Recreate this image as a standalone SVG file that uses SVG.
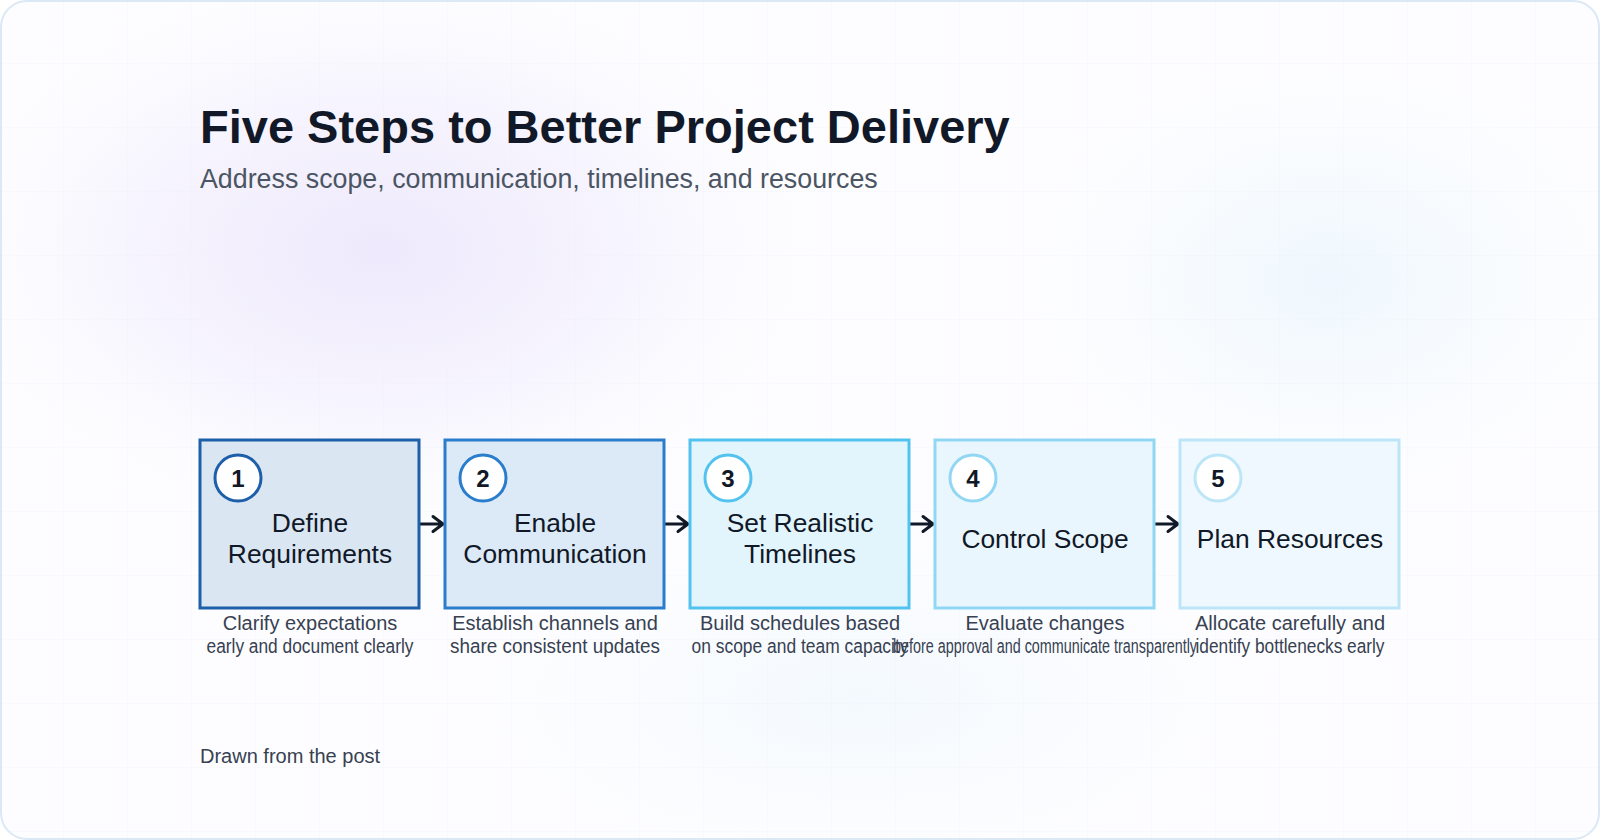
<svg xmlns="http://www.w3.org/2000/svg" width="1600" height="840" viewBox="0 0 1600 840">
  <defs>
    <style>
      .title { font-family: "Liberation Sans", Arial, Helvetica, sans-serif; font-weight: 700; font-size: 47px; fill: #111827; }
      .sub { font-family: "Liberation Sans", Arial, Helvetica, sans-serif; font-size: 26.8px; fill: #4b5563; }
      .foot { font-family: "Liberation Sans", Arial, Helvetica, sans-serif; font-size: 20px; fill: #374151; }
      .label { font-family: "Liberation Sans", Arial, Helvetica, sans-serif; font-size: 26.4px; fill: #111827; text-anchor: middle; }
      .num { font-family: "Liberation Sans", Arial, Helvetica, sans-serif; font-weight: 700; font-size: 24px; fill: #111827; text-anchor: middle; }
      .desc { font-family: "Liberation Sans", Arial, Helvetica, sans-serif; font-size: 20px; fill: #374151; text-anchor: middle; }
      .box { stroke-width: 3; }
      .badge { fill: #ffffff; stroke-width: 3; }
      .conn { fill: none; stroke: #111827; stroke-width: 3; stroke-linecap: round; stroke-linejoin: round; }
    </style>
    <radialGradient id="glowP" cx="0.5" cy="0.5" r="0.5">
      <stop offset="0" stop-color="#ede7fc" stop-opacity="0.95"/>
      <stop offset="0.55" stop-color="#f1edfd" stop-opacity="0.5"/>
      <stop offset="1" stop-color="#ffffff" stop-opacity="0"/>
    </radialGradient>
    <radialGradient id="glowB" cx="0.5" cy="0.5" r="0.5">
      <stop offset="0" stop-color="#e9f5fd" stop-opacity="0.9"/>
      <stop offset="0.55" stop-color="#f0f8fd" stop-opacity="0.45"/>
      <stop offset="1" stop-color="#ffffff" stop-opacity="0"/>
    </radialGradient>
    <pattern id="grid" width="64" height="64" patternUnits="userSpaceOnUse">
      <path d="M64 0 V64 M0 64 H64" fill="none" stroke="#e9eef5" stroke-width="1" opacity="0.5"/>
    </pattern>
    <clipPath id="card">
      <rect x="1" y="1" width="1598" height="838" rx="26"/>
    </clipPath>
  </defs>

  <rect x="0" y="0" width="1600" height="840" fill="#ffffff"/>
  <g clip-path="url(#card)">
    <rect x="0" y="0" width="1600" height="840" fill="#fdfdff"/>
    <ellipse cx="380" cy="250" rx="480" ry="300" fill="url(#glowP)"/>
    <ellipse cx="1330" cy="280" rx="340" ry="240" fill="url(#glowB)" opacity="0.8"/>
    <ellipse cx="860" cy="700" rx="440" ry="190" fill="url(#glowB)" opacity="0.55"/>
    <rect x="0" y="0" width="1600" height="840" fill="url(#grid)"/>
  </g>
  <rect x="1" y="1" width="1598" height="838" rx="26" fill="none" stroke="#dbe8f5" stroke-width="2"/>

  <text class="title" x="200" y="143">Five Steps to Better Project Delivery</text>
  <text class="sub" x="200" y="188">Address scope, communication, timelines, and resources</text>

  <g id="connectors">
    <path class="conn" d="M419 524 H442 M433 516.5 L443 524 L433 531.5"/>
    <path class="conn" d="M664 524 H687 M678 516.5 L688 524 L678 531.5"/>
    <path class="conn" d="M909 524 H932 M923 516.5 L933 524 L923 531.5"/>
    <path class="conn" d="M1154 524 H1177 M1168 516.5 L1178 524 L1168 531.5"/>
  </g>

  <g id="node-1">
    <rect class="box" x="200" y="440" width="219" height="168" fill="#dae6f2" stroke="#1d5fa8"/>
    <circle class="badge" cx="238" cy="478" r="23" stroke="#1d5fa8"/>
    <text class="num" x="238" y="487">1</text>
    <text class="label" x="310" y="532">Define</text>
    <text class="label" x="310" y="563">Requirements</text>
    <text class="desc" x="310" y="630">Clarify expectations</text>
    <text class="desc" x="310" y="653" textLength="207" lengthAdjust="spacingAndGlyphs">early and document clearly</text>
  </g>

  <g id="node-2">
    <rect class="box" x="445" y="440" width="219" height="168" fill="#dceaf7" stroke="#2a7dcc"/>
    <circle class="badge" cx="483" cy="478" r="23" stroke="#2a7dcc"/>
    <text class="num" x="483" y="487">2</text>
    <text class="label" x="555" y="532">Enable</text>
    <text class="label" x="555" y="563">Communication</text>
    <text class="desc" x="555" y="630">Establish channels and</text>
    <text class="desc" x="555" y="653" textLength="210" lengthAdjust="spacingAndGlyphs">share consistent updates</text>
  </g>

  <g id="node-3">
    <rect class="box" x="690" y="440" width="219" height="168" fill="#e2f4fc" stroke="#52c3ee"/>
    <circle class="badge" cx="728" cy="478" r="23" stroke="#52c3ee"/>
    <text class="num" x="728" y="487">3</text>
    <text class="label" x="800" y="532">Set Realistic</text>
    <text class="label" x="800" y="563">Timelines</text>
    <text class="desc" x="800" y="630">Build schedules based</text>
    <text class="desc" x="800" y="653" textLength="217" lengthAdjust="spacingAndGlyphs">on scope and team capacity</text>
  </g>

  <g id="node-4">
    <rect class="box" x="935" y="440" width="219" height="168" fill="#eaf6fd" stroke="#91d7f4"/>
    <circle class="badge" cx="973" cy="478" r="23" stroke="#91d7f4"/>
    <text class="num" x="973" y="487">4</text>
    <text class="label" x="1045" y="548">Control Scope</text>
    <text class="desc" x="1045" y="630">Evaluate changes</text>
    <text class="desc" x="1045" y="653" textLength="304" lengthAdjust="spacingAndGlyphs">before approval and communicate transparently</text>
  </g>

  <g id="node-5">
    <rect class="box" x="1180" y="440" width="219" height="168" fill="#eff8fe" stroke="#bce6f8"/>
    <circle class="badge" cx="1218" cy="478" r="23" stroke="#bce6f8"/>
    <text class="num" x="1218" y="487">5</text>
    <text class="label" x="1290" y="548">Plan Resources</text>
    <text class="desc" x="1290" y="630">Allocate carefully and</text>
    <text class="desc" x="1290" y="653" textLength="189" lengthAdjust="spacingAndGlyphs">identify bottlenecks early</text>
  </g>

  <text class="foot" x="200" y="763">Drawn from the post</text>
</svg>
